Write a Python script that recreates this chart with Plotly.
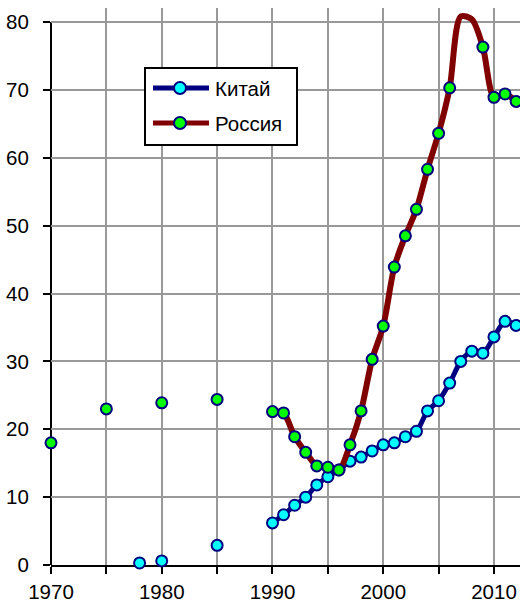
import plotly.graph_objects as go

years = list(range(1970, 2013))

china = {
    1978: 0.3, 1980: 0.6, 1985: 2.9,
    1990: 6.2, 1991: 7.4, 1992: 8.8, 1993: 10.0, 1994: 11.8, 1995: 13.0,
    1996: 14.0, 1997: 15.3, 1998: 15.9, 1999: 16.8, 2000: 17.7, 2001: 18.0,
    2002: 18.9, 2003: 19.7, 2004: 22.7, 2005: 24.2, 2006: 26.8, 2007: 30.0,
    2008: 31.5, 2009: 31.2, 2010: 33.6, 2011: 35.9, 2012: 35.3,
}
russia = {
    1970: 18.0, 1975: 23.0, 1980: 23.9, 1985: 24.4,
    1990: 22.6, 1991: 22.4, 1992: 18.9, 1993: 16.6, 1994: 14.6, 1995: 14.4,
    1996: 14.0, 1997: 17.7, 1998: 22.7, 1999: 30.3, 2000: 35.2, 2001: 43.9,
    2002: 48.5, 2003: 52.4, 2004: 58.3, 2005: 63.6, 2006: 70.3, 2007: 80.8,
    2008: 80.4, 2009: 76.3, 2010: 68.9, 2011: 69.4, 2012: 68.3,
}

x_tickvals = list(range(1970, 2015, 5))
x_ticktext = ["1970", "", "1980", "", "1990", "", "2000", "", "2010"]
y_tickvals = [0, 10, 20, 30, 40, 50, 60, 70, 80]

names = ["Китай", "Россия"]
line_colors = ["#000080", "#800000"]
marker_colors = ["#00FFFF", "#00FF00"]
outline = "#000080"

Y_MAX_AXIS = 80
W, H = 520, 602
ML, MR, MT, MB = 51, 0, 8, 37
plot_w = W - ML - MR
plot_h = H - MT - MB
y_top = Y_MAX_AXIS * plot_h / (565 - 22)

fig = go.Figure()

for name, data, lc, mc, lw in [(names[0], china, line_colors[0], marker_colors[0], 5),
                               (names[1], russia, line_colors[1], marker_colors[1], 6)]:
    ys = [data.get(y) for y in years]
    fig.add_trace(go.Scatter(
        x=years, y=ys, mode="lines", name=name,
        line=dict(color=lc, width=lw, shape="spline", smoothing=0.8),
        connectgaps=False, showlegend=False, hoverinfo="skip"))
    ym = [v if (v is not None and v <= Y_MAX_AXIS) else None for v in ys]
    fig.add_trace(go.Scatter(
        x=years, y=ym, mode="markers", name=name,
        marker=dict(color=mc, size=11, line=dict(color=outline, width=2)),
        cliponaxis=False, showlegend=False))


def px(x):
    return (x - ML) / plot_w


def py(y):
    return (H - MB - y) / plot_h


shapes = [
    dict(type="line", xref="paper", yref="y", x0=0, x1=0, y0=0, y1=Y_MAX_AXIS,
         line=dict(color="black", width=2), layer="between"),
    dict(type="rect", xref="paper", yref="paper", x0=px(145), x1=px(297),
         y0=py(145), y1=py(68), line=dict(color="black", width=2),
         fillcolor="white", layer="above"),
]
annotations = []
for i, (name, lc, mc) in enumerate(zip(names, line_colors, marker_colors)):
    yc = 88 + i * 35
    shapes.append(dict(type="line", xref="paper", yref="paper", x0=px(153), x1=px(209),
                       y0=py(yc), y1=py(yc), line=dict(color=lc, width=5), layer="above"))
    r = 6
    shapes.append(dict(type="circle", xref="paper", yref="paper",
                       x0=px(180 - r), x1=px(180 + r), y0=py(yc + r), y1=py(yc - r),
                       fillcolor=mc, line=dict(color=outline, width=2), layer="above"))
    annotations.append(dict(xref="paper", yref="paper", x=px(213), y=py(yc + 1),
                            text=name, showarrow=False, xanchor="left", yanchor="middle",
                            font=dict(size=20.5, color="black")))

fig.update_layout(
    width=W, height=H,
    margin=dict(l=ML, r=MR, t=MT, b=MB, pad=0),
    paper_bgcolor="white", plot_bgcolor="white",
    font=dict(family="Liberation Sans, Arial, sans-serif", size=20.5, color="black"),
    showlegend=False,
    shapes=shapes, annotations=annotations,
    xaxis=dict(range=[1970, 2012.35], tickvals=x_tickvals, ticktext=x_ticktext,
               showgrid=True, gridcolor="#999999", gridwidth=2,
               showline=True, linecolor="black", linewidth=2,
               ticks="outside", ticklen=7, tickwidth=2, tickcolor="black",
               zeroline=False, automargin=False, layer="below traces",
               ticklabelstandoff=0),
    yaxis=dict(range=[0, y_top], tickvals=y_tickvals,
               showgrid=True, gridcolor="#999999", gridwidth=2,
               showline=False, ticks="outside", ticklen=7, tickwidth=2,
               tickcolor="black", zeroline=False, automargin=False,
               layer="below traces", ticklabelstandoff=10),
)

fig.write_html(
    "out.html",
    config={"displayModeBar": False},
    post_script="document.body.style.margin='0';document.body.style.overflow='hidden';",
)
